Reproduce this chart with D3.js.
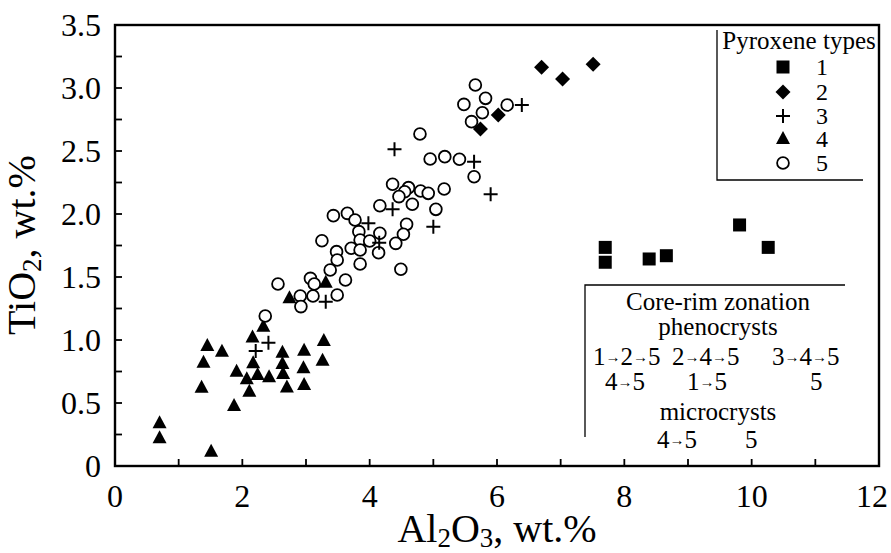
<!DOCTYPE html>
<html><head><meta charset="utf-8">
<script src="https://cdn.jsdelivr.net/npm/d3@7"></script>
<style>body{margin:0;background:#fff}svg{display:block}text{font-family:"Liberation Serif","Times New Roman",serif;fill:#000}</style>
</head><body><svg id="c" width="891" height="553" font-family="Liberation Serif, Times New Roman, serif"></svg>
<script>
// Data (Al2O3, TiO2) for each pyroxene type
const type1 = [[7.70,1.735],[7.70,1.617],[8.39,1.643],[8.66,1.669],[9.81,1.913],[10.26,1.735]];
const type2 = [[6.70,3.164],[6.02,2.786],[5.74,2.675],[7.03,3.071],[7.51,3.188]];
const type3 = [[6.39,2.865],[4.39,2.513],[5.64,2.415],[5.90,2.156],[4.36,2.037],[3.98,1.926],[5.00,1.899],[4.15,1.772],[3.31,1.304],[2.41,0.979],[2.21,0.913]];
const type4 = [[3.31,1.455],[2.74,1.331],[2.33,1.106],[2.16,1.019],[1.45,0.952],[1.68,0.907],[3.28,0.992],[2.63,0.899],[2.97,0.915],[1.39,0.820],[2.17,0.815],[1.91,0.749],[2.63,0.81],[3.26,0.836],[2.07,0.688],[2.24,0.722],[2.42,0.704],[2.64,0.730],[2.96,0.775],[2.97,0.643],[2.70,0.624],[2.11,0.590],[1.36,0.622],[1.87,0.476],[0.70,0.339],[0.70,0.220],[1.51,0.114]];
const type5 = [[5.66,3.024],[5.82,2.918],[5.48,2.870],[6.16,2.865],[5.77,2.804],[5.60,2.733],[4.79,2.635],[4.95,2.437],[5.18,2.455],[5.41,2.434],[5.64,2.296],[4.36,2.236],[4.61,2.209],[4.55,2.177],[4.80,2.183],[4.92,2.164],[5.17,2.198],[4.46,2.138],[4.67,2.077],[4.16,2.066],[5.04,2.037],[3.43,1.987],[3.65,2.005],[3.77,1.952],[4.58,1.918],[3.83,1.860],[4.53,1.839],[4.16,1.847],[3.85,1.794],[4.00,1.786],[4.41,1.767],[3.25,1.788],[3.71,1.728],[3.48,1.701],[3.85,1.714],[4.14,1.693],[3.38,1.556],[3.49,1.635],[3.85,1.603],[4.49,1.561],[3.62,1.476],[3.07,1.489],[3.13,1.444],[2.91,1.349],[3.11,1.349],[3.49,1.357],[2.92,1.265],[2.56,1.444],[2.36,1.190]];
const xTickLabels = [0,2,4,6,8,10,12];
const yTickLabels = ["0","0.5","1.0","1.5","2.0","2.5","3.0","3.5"];
const legendTypes = ["1","2","3","4","5"];
const zonationRows = [
  {y:310, items:[{x:718, t:"Core-rim zonation", anchor:"middle"}]},
  {y:335, items:[{x:718, t:"phenocrysts", anchor:"middle"}]},
  {y:365, items:[{x:593,t:"1→2→5"},{x:672,t:"2→4→5"},{x:772,t:"3→4→5"}]},
  {y:390, items:[{x:605,t:"4→5"},{x:687,t:"1→5"},{x:810,t:"5"}]},
  {y:420, items:[{x:718, t:"microcrysts", anchor:"middle"}]},
  {y:448, items:[{x:657,t:"4→5"},{x:745,t:"5"}]}
];

const svg = d3.select("#c");
const L=115, R=879, T=25, B=466;
const x = d3.scaleLinear().domain([0,12]).range([L,R]);
const y = d3.scaleLinear().domain([0,3.5]).range([B,T]);

// ticks (inside)
const g = svg.append("g");
g.selectAll(".xt").data(d3.range(1,12)).enter().append("line")
  .attr("x1",d=>x(d)).attr("x2",d=>x(d)).attr("y1",B).attr("y2",B-7)
  .attr("stroke","#000").attr("stroke-width",1.8);
g.selectAll(".yt").data(d3.range(1,14).map(i=>i*0.25)).enter().append("line")
  .attr("y1",d=>y(d)).attr("y2",d=>y(d)).attr("x1",L).attr("x2",L+7)
  .attr("stroke","#000").attr("stroke-width",1.8);
// frame
svg.append("rect").attr("x",L).attr("y",T).attr("width",R-L).attr("height",B-T)
  .attr("fill","none").attr("stroke","#000").attr("stroke-width",2.4);

// tick labels
svg.selectAll(".xl").data(xTickLabels).enter().append("text")
  .attr("x",(d,i)=>i===xTickLabels.length-1?888:x(d)).attr("y",507)
  .attr("text-anchor",(d,i)=>i===xTickLabels.length-1?"end":"middle")
  .attr("font-size",32).text(d=>d);
svg.selectAll(".yl").data(yTickLabels).enter().append("text")
  .attr("x",101).attr("y",d=>y(+d)+11).attr("text-anchor","end")
  .attr("font-size",32).text(d=>d);

// axis titles
const xt = svg.append("text").attr("x",497).attr("y",542).attr("text-anchor","middle").attr("font-size",40);
xt.append("tspan").text("Al");
xt.append("tspan").attr("font-size",27).attr("dy",5).text("2");
xt.append("tspan").attr("dy",-5).text("O");
xt.append("tspan").attr("font-size",27).attr("dy",5).text("3");
xt.append("tspan").attr("dy",-5).text(", wt.%");
const yt = svg.append("text").attr("transform","translate(35,245) rotate(-90)").attr("text-anchor","middle").attr("font-size",40);
yt.append("tspan").text("TiO");
yt.append("tspan").attr("font-size",27).attr("dy",6).text("2");
yt.append("tspan").attr("dy",-6).text(", wt.%");

// symbols
function drawSym(sel, type){
  if(type===1){
    sel.append("rect").attr("x",-6.5).attr("y",-6.5).attr("width",13).attr("height",13).attr("fill","#000");
  } else if(type===2){
    sel.append("rect").attr("x",-5.3).attr("y",-5.3).attr("width",10.6).attr("height",10.6).attr("fill","#000").attr("transform","rotate(45)");
  } else if(type===3){
    sel.append("path").attr("d","M-7,0H7M0,-7V7").attr("stroke","#000").attr("stroke-width",2).attr("fill","none");
  } else if(type===4){
    sel.append("path").attr("d","M0,-8L7,5L-7,5Z").attr("fill","#000");
  } else {
    sel.append("circle").attr("r",5.9).attr("fill","#fff").attr("stroke","#000").attr("stroke-width",1.8);
  }
}
const series = [[type4,4],[type1,1],[type2,2],[type5,5],[type3,3]];
series.forEach(([data,t])=>{
  svg.append("g").selectAll("g").data(data).enter().append("g")
    .attr("transform",d=>`translate(${x(d[0])},${y(d[1])})`)
    .each(function(){drawSym(d3.select(this),t);});
});

// Legend 1
svg.append("path").attr("d","M717,30V180H863").attr("fill","none").attr("stroke","#000").attr("stroke-width",1.3);
svg.append("text").attr("x",799).attr("y",49).attr("text-anchor","middle").attr("font-size",25).text("Pyroxene types");
const ly = [67,92,116,139,163];
legendTypes.forEach((lab,i)=>{
  const gg = svg.append("g").attr("transform",`translate(783,${ly[i]})`);
  drawSym(gg,i+1);
  svg.append("text").attr("x",822).attr("y",ly[i]+8).attr("text-anchor","middle").attr("font-size",24).text(lab);
});

// Legend 2
svg.append("path").attr("d","M845,285H585V437").attr("fill","none").attr("stroke","#000").attr("stroke-width",1.3);
zonationRows.forEach(row=>{
  row.items.forEach(it=>{
    const t = svg.append("text").attr("x",it.x).attr("y",row.y).attr("font-size",25).attr("text-anchor",it.anchor||"start");
    if(it.t.includes("→")){
      it.t.split("→").forEach((p,j)=>{
        if(j>0){
          t.append("tspan").attr("font-size",15).attr("dy",-3).text("→");
          t.append("tspan").attr("dy",3).text(p);
        } else t.append("tspan").text(p);
      });
    } else t.text(it.t);
  });
});
</script></body></html>
